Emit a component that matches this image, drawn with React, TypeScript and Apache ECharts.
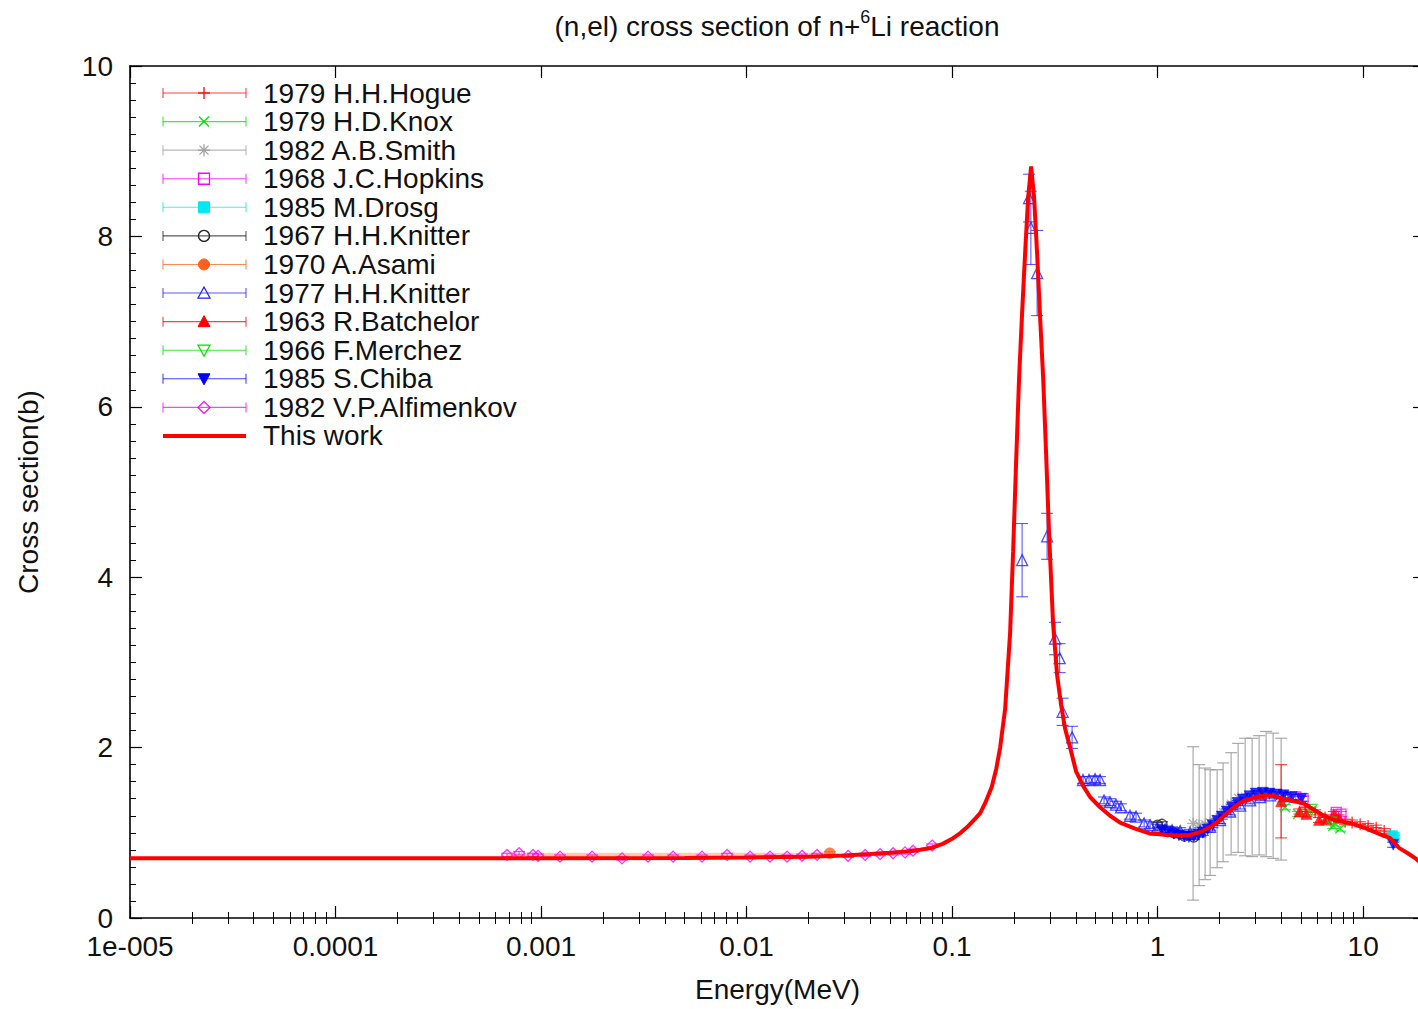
import React, { useEffect, useRef } from "react";
import * as echarts from "echarts";

const FONT = "'Liberation Sans', Arial, Helvetica, sans-serif";
const TXT = "#111111";

// ---------- axis ticks / labels ----------
const xMajorTicks = [1e-5, 1e-4, 1e-3, 1e-2, 1e-1, 1, 10];
const xMajorLabels = ["1e-005", "0.0001", "0.001", "0.01", "0.1", "1", "10"];
const xMinorTicks: number[] = [];
for (const d of [1e-5, 1e-4, 1e-3, 1e-2, 1e-1, 1, 10]) {
  for (const m of [2, 3, 4, 5, 6, 7, 8, 9]) {
    const v = m * d;
    if (v <= 20) xMinorTicks.push(v);
  }
}
const yTicks = [0, 2, 4, 6, 8, 10];

// ---------- "This work" evaluated curve (E in MeV, sigma in b) ----------
const thisWorkE = [
  1e-5, 1e-4, 1e-3, 0.005, 0.01, 0.02, 0.03, 0.04, 0.05, 0.06, 0.07, 0.08, 0.09,
  0.1, 0.11, 0.12, 0.13, 0.137, 0.145, 0.156, 0.164, 0.1713, 0.1811, 0.1916,
  0.1981, 0.2049, 0.2119, 0.2191, 0.2266, 0.2344, 0.2424, 0.2507, 0.2592,
  0.2681, 0.2773, 0.2867, 0.2965, 0.3101, 0.3244, 0.3392, 0.3548, 0.3752,
  0.4012, 0.434, 0.4694, 0.525, 0.5873, 0.6568, 0.7771, 0.9195, 1.0, 1.1, 1.29,
  1.44, 1.62, 1.81, 1.96, 2.15, 2.35, 2.6, 2.85, 3.3, 3.7, 4.1, 4.6, 5.1, 5.95,
  6.35, 7.2, 8.8, 10.6, 12.7, 13.5, 15.0, 16.5, 18.2, 20,
];
const thisWorkS = [
  0.7, 0.7, 0.7, 0.705, 0.71, 0.72, 0.735, 0.75, 0.765, 0.78, 0.8, 0.825, 0.87,
  0.93, 1.0, 1.08, 1.17, 1.23, 1.35, 1.54, 1.75, 2.0, 2.45, 3.35, 4.3, 5.35,
  6.35, 7.1, 7.8, 8.45, 8.82, 8.45, 7.8, 7.05, 6.35, 5.45, 4.5, 3.45, 2.85,
  2.5, 2.22, 2.0, 1.72, 1.55, 1.42, 1.3, 1.2, 1.12, 1.05, 0.99, 0.985, 0.975,
  0.97, 0.975, 1.01, 1.07, 1.13, 1.22, 1.3, 1.37, 1.4, 1.44, 1.43, 1.4, 1.37,
  1.35, 1.25, 1.21, 1.15, 1.11, 1.04, 0.96, 0.94, 0.82, 0.76, 0.69, 0.6,
];

// ---------- experimental data: [E, sigma, d] or [E, sigma, lo, hi] ----------
const hogue = [
  [5.22, 1.3, 0.03], [5.84, 1.24, 0.03], [6.53, 1.18, 0.03], [8.17, 1.13, 0.03],
  [8.84, 1.12, 0.03], [9.67, 1.1, 0.03], [10.57, 1.08, 0.03], [11.57, 1.06, 0.03],
  [12.66, 1.02, 0.03], [13.55, 0.98, 0.03],
];
const knox = [
  [4.17, 1.3, 0.03], [4.83, 1.22, 0.03], [7.15, 1.08, 0.03], [7.74, 1.05, 0.03],
];
const smith = [
  [1.488, 1.11, 0.21, 2.01], [1.592, 1.09, 0.38, 1.8], [1.703, 1.1, 0.45, 1.76],
  [1.801, 1.12, 0.5, 1.74], [1.948, 1.16, 0.59, 1.74], [2.083, 1.24, 0.66, 1.82],
  [2.279, 1.34, 0.74, 1.94], [2.465, 1.41, 0.77, 2.05], [2.666, 1.42, 0.73, 2.11],
  [2.883, 1.42, 0.72, 2.11], [3.118, 1.44, 0.74, 2.14], [3.373, 1.45, 0.72, 2.19],
  [3.648, 1.44, 0.7, 2.17], [3.99, 1.4, 0.68, 2.11],
];
const hopkins = [[4.7, 1.42, 0.03], [5.1, 1.4, 0.03], [7.4, 1.24, 0.03], [7.8, 1.22, 0.03]];
const drosg = [[13.9, 0.97, 0.02], [14.2, 0.95, 0.02]];
const knitter67 = [
  [1.0, 1.09, 0.03], [1.05, 1.1, 0.03], [1.2, 1.0, 0.03], [1.35, 0.96, 0.03], [1.5, 0.95, 0.03],
];
const asami = [[0.0254, 0.76, 0.02]];
const asamiBand = [0.00068, 0.0254]; // horizontal energy extent of the 1970 A.Asami data
const knitter77 = [
  [0.2191, 4.2, 0.43], [0.2369, 8.45, 0.28], [0.2417, 8.1, 0.43], [0.2593, 7.57, 0.5],
  [0.29, 4.48, 0.27], [0.317, 3.28, 0.19], [0.3337, 3.05, 0.17], [0.3449, 2.42, 0.16],
  [0.3836, 2.12, 0.13], [0.4336, 1.62, 0.04], [0.4636, 1.62, 0.04], [0.496, 1.63, 0.04],
  [0.5246, 1.62, 0.04], [0.5486, 1.38, 0.04], [0.5868, 1.36, 0.04], [0.6276, 1.33, 0.04],
  [0.6638, 1.3, 0.04], [0.7343, 1.2, 0.04], [0.7853, 1.19, 0.04], [0.8597, 1.11, 0.04],
  [0.9194, 1.09, 0.04], [0.9945, 1.06, 0.04], [1.088, 1.04, 0.04], [1.176, 1.03, 0.04],
  [1.287, 1.02, 0.04], [1.439, 1.0, 0.04], [1.61, 1.02, 0.04], [1.801, 1.07, 0.04],
  [2.015, 1.15, 0.04], [2.254, 1.25, 0.04], [2.521, 1.32, 0.04], [2.82, 1.38, 0.04],
  [3.155, 1.42, 0.04], [3.53, 1.44, 0.04], [4.17, 1.43, 0.04],
];
const batchelor = [
  [3.2, 1.45, 0.03], [3.99, 1.37, 0.43], [4.9, 1.25, 0.03], [5.3, 1.22, 0.03],
  [6.1, 1.15, 0.03], [6.6, 1.16, 0.03], [7.2, 1.22, 0.03], [7.6, 1.18, 0.03],
];
const merchez = [[5.6, 1.27, 0.03], [7.0, 1.12, 0.03]];
const chiba = [
  [1.05, 1.03, 0.03], [1.12, 1.01, 0.03], [1.2, 0.99, 0.03], [1.27, 0.97, 0.03],
  [1.35, 0.96, 0.03], [1.42, 0.95, 0.03], [1.5, 0.96, 0.03], [1.58, 0.98, 0.03],
  [1.66, 1.0, 0.03], [1.75, 1.04, 0.03], [1.85, 1.09, 0.03], [1.95, 1.14, 0.03],
  [2.05, 1.19, 0.03], [2.17, 1.25, 0.03], [2.3, 1.3, 0.03], [2.45, 1.35, 0.03],
  [2.6, 1.39, 0.03], [2.8, 1.43, 0.03], [3.0, 1.46, 0.03], [3.25, 1.47, 0.03],
  [3.5, 1.46, 0.03], [3.8, 1.45, 0.03], [4.1, 1.44, 0.03], [4.5, 1.42, 0.03],
  [5.0, 1.4, 0.03], [14.0, 0.86, 0.03],
];
const alfimenkov = [
  [6.83e-4, 0.74], [7.82e-4, 0.76], [9.14e-4, 0.74], [9.67e-4, 0.73], [1.237e-3, 0.72],
  [1.771e-3, 0.72], [2.478e-3, 0.7], [3.317e-3, 0.72], [4.39e-3, 0.72], [6.07e-3, 0.72],
  [8.04e-3, 0.74], [0.0104, 0.72], [0.013, 0.72], [0.01574, 0.72], [0.01862, 0.73],
  [0.02203, 0.74], [0.03119, 0.73], [0.03775, 0.74], [0.04465, 0.75], [0.05164, 0.76],
  [0.05902, 0.77], [0.06457, 0.79], [0.07996, 0.85],
].map((p) => [p[0], p[1], 0.02]);

type DS = { name: string; color: string; marker: string; data: number[][] };
const DATASETS: DS[] = [
  { name: "1979 H.H.Hogue", color: "#ff0000", marker: "plus", data: hogue },
  { name: "1979 H.D.Knox", color: "#00e000", marker: "cross", data: knox },
  { name: "1982 A.B.Smith", color: "#a0a0a0", marker: "star", data: smith },
  { name: "1968 J.C.Hopkins", color: "#ff00ff", marker: "emptyRect", data: hopkins },
  { name: "1985 M.Drosg", color: "#00e8f0", marker: "rect", data: drosg },
  { name: "1967 H.H.Knitter", color: "#222222", marker: "emptyCircle", data: knitter67 },
  { name: "1970 A.Asami", color: "#ff6020", marker: "circle", data: asami },
  { name: "1977 H.H.Knitter", color: "#2020ff", marker: "emptyTriangle", data: knitter77 },
  { name: "1963 R.Batchelor", color: "#ff0000", marker: "triangle", data: batchelor },
  { name: "1966 F.Merchez", color: "#00e000", marker: "emptyInvTriangle", data: merchez },
  { name: "1985 S.Chiba", color: "#0000ff", marker: "invTriangle", data: chiba },
  { name: "1982 V.P.Alfimenkov", color: "#ff00ff", marker: "emptyDiamond", data: alfimenkov },
];
const THIS_WORK = "This work";

const SYMBOLS: Record<string, { symbol: string; size: number; rotate?: number; empty: boolean }> = {
  plus: { symbol: "path://M5 0L5 10M0 5L10 5", size: 12, empty: true },
  cross: { symbol: "path://M0 0L10 10M10 0L0 10", size: 10, empty: true },
  star: { symbol: "path://M5 0L5 10M0 5L10 5M1.5 1.5L8.5 8.5M8.5 1.5L1.5 8.5", size: 12, empty: true },
  emptyRect: { symbol: "rect", size: 10, empty: true },
  rect: { symbol: "rect", size: 10, empty: false },
  emptyCircle: { symbol: "circle", size: 10, empty: true },
  circle: { symbol: "circle", size: 11, empty: false },
  emptyTriangle: { symbol: "triangle", size: 11, empty: true },
  triangle: { symbol: "triangle", size: 11, empty: false },
  emptyInvTriangle: { symbol: "triangle", size: 11, rotate: 180, empty: true },
  invTriangle: { symbol: "triangle", size: 11, rotate: 180, empty: false },
  emptyDiamond: { symbol: "diamond", size: 11, empty: true },
};

function legendMarker(type: string, cx: number, cy: number, c: string): any[] {
  const ln = (x1: number, y1: number, x2: number, y2: number) => ({
    type: "line",
    shape: { x1, y1, x2, y2 },
    style: { stroke: c, lineWidth: 1.3 },
  });
  const st = (fill: boolean) => (fill ? { fill: c, stroke: c, lineWidth: 1 } : { fill: "none", stroke: c, lineWidth: 1.3 });
  switch (type) {
    case "plus":
      return [ln(cx - 6, cy, cx + 6, cy), ln(cx, cy - 6, cx, cy + 6)];
    case "cross":
      return [ln(cx - 5, cy - 5, cx + 5, cy + 5), ln(cx - 5, cy + 5, cx + 5, cy - 5)];
    case "star":
      return [
        ln(cx - 6, cy, cx + 6, cy), ln(cx, cy - 6, cx, cy + 6),
        ln(cx - 4.5, cy - 4.5, cx + 4.5, cy + 4.5), ln(cx - 4.5, cy + 4.5, cx + 4.5, cy - 4.5),
      ];
    case "emptyRect":
    case "rect":
      return [{ type: "rect", shape: { x: cx - 5.5, y: cy - 5.5, width: 11, height: 11 }, style: st(type === "rect") }];
    case "emptyCircle":
    case "circle":
      return [{ type: "circle", shape: { cx, cy, r: 5.5 }, style: st(type === "circle") }];
    case "emptyTriangle":
    case "triangle":
      return [{ type: "polygon", shape: { points: [[cx, cy - 6], [cx + 6, cy + 5], [cx - 6, cy + 5]] }, style: st(type === "triangle") }];
    case "emptyInvTriangle":
    case "invTriangle":
      return [{ type: "polygon", shape: { points: [[cx, cy + 6], [cx + 6, cy - 5], [cx - 6, cy - 5]] }, style: st(type === "invTriangle") }];
    case "emptyDiamond":
      return [{ type: "polygon", shape: { points: [[cx, cy - 6], [cx + 6, cy], [cx, cy + 6], [cx - 6, cy]] }, style: st(false) }];
  }
  return [];
}

function buildOption() {
  const series: any[] = [];
  DATASETS.forEach((ds, idx) => {
    const ebData = ds.data.map((p) => {
      const lo = p.length >= 4 ? p[2] : p[1] - p[2];
      const hi = p.length >= 4 ? p[3] : p[1] + p[2];
      return [p[0], p[1], lo, hi];
    });
    const isAsami = ds.name === "1970 A.Asami";
    const isSmith = ds.name === "1982 A.B.Smith";
    series.push({
      type: "custom",
      name: ds.name + " err",
      xAxisIndex: 0,
      yAxisIndex: 0,
      z: 2 + idx * 0.01,
      silent: true,
      clip: true,
      encode: { x: 0, y: 1 },
      data: ebData,
      renderItem: (params: any, api: any) => {
        const x = api.value(0);
        const y = api.value(1);
        const lo = api.value(2);
        const hi = api.value(3);
        const a = api.coord([x, lo]);
        const b = api.coord([x, hi]);
        const children: any[] = [];
        if (isAsami) {
          const l = api.coord([asamiBand[0], y]);
          const r = api.coord([asamiBand[1], y]);
          children.push({
            type: "line",
            shape: { x1: l[0], y1: l[1] + 2, x2: r[0], y2: r[1] + 2 },
            style: { stroke: "rgba(255,160,110,0.55)", lineWidth: 5 },
          });
        }
        const es = { stroke: isSmith ? "#999999" : ds.color, lineWidth: 1.1, opacity: isSmith ? 0.9 : 0.75 };
        children.push({ type: "line", shape: { x1: a[0], y1: a[1], x2: b[0], y2: b[1] }, style: es });
        children.push({ type: "line", shape: { x1: a[0] - 6, y1: a[1], x2: a[0] + 6, y2: a[1] }, style: es });
        children.push({ type: "line", shape: { x1: b[0] - 6, y1: b[1], x2: b[0] + 6, y2: b[1] }, style: es });
        return { type: "group", children };
      },
    });
    const sym = SYMBOLS[ds.marker];
    series.push({
      type: "scatter",
      name: ds.name,
      xAxisIndex: 0,
      yAxisIndex: 0,
      z: 3 + idx * 0.01,
      silent: true,
      symbol: sym.symbol,
      symbolSize: sym.size,
      symbolRotate: sym.rotate || 0,
      itemStyle: sym.empty
        ? { color: "rgba(0,0,0,0)", borderColor: ds.color, borderWidth: 1.3 }
        : { color: ds.color, borderColor: ds.color, borderWidth: 0.5 },
      emphasis: { disabled: true },
      data: ds.data.map((p) => [p[0], p[1]]),
    });
  });
  series.push({
    type: "line",
    name: THIS_WORK,
    xAxisIndex: 0,
    yAxisIndex: 0,
    z: 5,
    silent: true,
    symbol: "none",
    smooth: false,
    clip: true,
    lineStyle: { color: "#ff0000", width: 4 },
    data: thisWorkE.map((e, i) => [e, thisWorkS[i]]),
  });

  // legend drawn with graphic elements
  const graphic: any[] = [];
  const LX1 = 163, LX2 = 246, LXM = 204, LTX = 263, LY0 = 93, LDY = 28.58;
  DATASETS.forEach((ds, i) => {
    const y = LY0 + i * LDY;
    const ls = { stroke: ds.color, lineWidth: 1.1, opacity: 0.75 };
    graphic.push({ type: "line", shape: { x1: LX1, y1: y, x2: LX2, y2: y }, style: ls });
    graphic.push({ type: "line", shape: { x1: LX1, y1: y - 5, x2: LX1, y2: y + 5 }, style: ls });
    graphic.push({ type: "line", shape: { x1: LX2, y1: y - 5, x2: LX2, y2: y + 5 }, style: ls });
    legendMarker(ds.marker, LXM, y, ds.color).forEach((m) => graphic.push(m));
    graphic.push({
      type: "text",
      x: LTX,
      y,
      style: { text: ds.name, fontSize: 28, fontFamily: FONT, fill: TXT, verticalAlign: "middle", align: "left" },
    });
  });
  const ty = LY0 + DATASETS.length * LDY;
  graphic.push({ type: "line", shape: { x1: LX1, y1: ty, x2: LX2, y2: ty }, style: { stroke: "#ff0000", lineWidth: 4 } });
  graphic.push({
    type: "text",
    x: LTX,
    y: ty,
    style: { text: THIS_WORK, fontSize: 28, fontFamily: FONT, fill: TXT, verticalAlign: "middle", align: "left" },
  });
  // title
  graphic.push({
    type: "text",
    x: 777,
    y: 24,
    style: {
      text: "{a|(n,el) cross section of n+}{s|6}{a|Li reaction}",
      align: "center",
      verticalAlign: "middle",
      rich: {
        a: { fontSize: 28, fontFamily: FONT, fill: TXT, lineHeight: 32, verticalAlign: "bottom" },
        s: { fontSize: 18, fontFamily: FONT, fill: TXT, lineHeight: 18, verticalAlign: "top" },
      },
    },
  });

  const axisLine = { show: true, onZero: false, lineStyle: { color: "#000", width: 1.6 } };
  const labelStyle = { fontSize: 28, fontFamily: FONT, color: TXT };
  const xCommon = { type: "log", logBase: 10, min: 1e-5, max: 20, splitLine: { show: false }, minorSplitLine: { show: false } };

  return {
    animation: false,
    backgroundColor: "#ffffff",
    grid: { left: 130, right: 15, top: 66, bottom: 91, containLabel: false, outerBoundsMode: "none" },
    graphic,
    xAxis: [
      {
        ...xCommon,
        position: "bottom",
        axisLine,
        axisTick: { show: true, inside: true, length: 12, customValues: xMajorTicks, lineStyle: { color: "#000", width: 1.2 } },
        axisLabel: {
          ...labelStyle,
          margin: 14,
          customValues: xMajorTicks,
          formatter: (v: number) => {
            const k = Math.round(Math.log10(v)) + 5;
            return xMajorLabels[k] ?? "";
          },
        },
        name: "Energy(MeV)",
        nameLocation: "middle",
        nameGap: 57,
        nameTextStyle: labelStyle,
      },
      {
        ...xCommon,
        position: "bottom",
        axisLine: { show: false },
        axisTick: { show: true, inside: true, length: 6, customValues: xMinorTicks, lineStyle: { color: "#000", width: 1 } },
        axisLabel: { show: false },
      },
      {
        ...xCommon,
        position: "top",
        axisLine,
        axisTick: { show: true, inside: true, length: 12, customValues: xMajorTicks, lineStyle: { color: "#000", width: 1.2 } },
        axisLabel: { show: false },
      },
      {
        ...xCommon,
        position: "top",
        axisLine: { show: false },
        axisTick: { show: true, inside: true, length: 6, customValues: xMinorTicks, lineStyle: { color: "#000", width: 1 } },
        axisLabel: { show: false },
      },
    ],
    yAxis: [
      {
        type: "value",
        min: 0,
        max: 10,
        interval: 2,
        position: "left",
        axisLine,
        axisTick: { show: true, inside: true, length: 12, lineStyle: { color: "#000", width: 1.2 } },
        minorTick: { show: true, splitNumber: 10, length: 6, lineStyle: { color: "#000", width: 1 } },
        splitLine: { show: false },
        axisLabel: { ...labelStyle, margin: 17, customValues: yTicks },
        name: "Cross section(b)",
        nameLocation: "middle",
        nameGap: 88,
        nameTextStyle: labelStyle,
      },
      {
        type: "value",
        min: 0,
        max: 10,
        interval: 2,
        position: "right",
        axisLine,
        axisTick: { show: true, inside: true, length: 12, lineStyle: { color: "#000", width: 1.2 } },
        minorTick: { show: true, splitNumber: 10, length: 6, lineStyle: { color: "#000", width: 1 } },
        splitLine: { show: false },
        axisLabel: { show: false },
      },
    ],
    series,
  };
}

export default function App() {
  const ref = useRef<HTMLDivElement>(null);
  useEffect(() => {
    if (!ref.current) return;
    const chart = echarts.init(ref.current, undefined, { renderer: "svg" });
    chart.setOption(buildOption() as any);
    return () => chart.dispose();
  }, []);
  return (
    <div
      style={{
        position: "fixed",
        left: 0,
        top: 0,
        width: 1418,
        height: 1009,
        overflow: "hidden",
        background: "#fff",
      }}
    >
      <div ref={ref} style={{ width: 1440, height: 1009 }} />
    </div>
  );
}
